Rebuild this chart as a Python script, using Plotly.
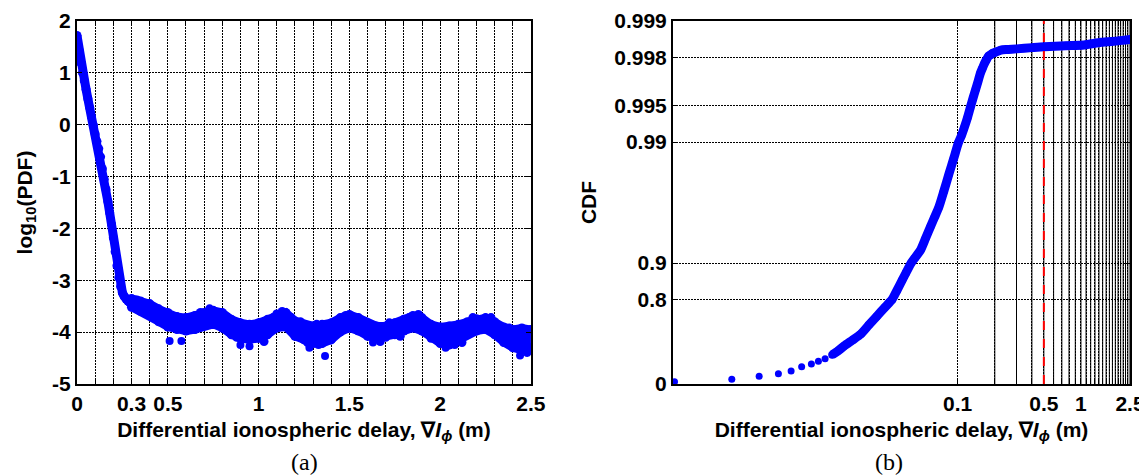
import numpy as np
import plotly.graph_objects as go

# ---------------- Panel (a): log10(PDF) ----------------
pdf_steep_x = [0.00, 0.01, 0.02, 0.03, 0.04, 0.05, 0.06, 0.07, 0.08, 0.09, 0.10,
               0.11, 0.12, 0.13, 0.14, 0.15, 0.16, 0.17, 0.18, 0.19, 0.20,
               0.21, 0.22, 0.23, 0.24, 0.25, 0.26, 0.27, 0.28, 0.29, 0.30]
pdf_steep_y = [1.72, 1.45, 1.20, 1.00, 0.85, 0.68, 0.50, 0.33, 0.15, -0.01, -0.18,
               -0.32, -0.46, -0.62, -0.85, -1.05, -1.25, -1.48, -1.70, -1.92, -2.18,
               -2.45, -2.72, -2.95, -3.12, -3.24, -3.31, -3.36, -3.40, -3.43, -3.46]

band_x = [0.30, 0.35, 0.40, 0.45, 0.50, 0.55, 0.60, 0.65, 0.70, 0.75, 0.80, 0.85,
          0.90, 0.95, 1.00, 1.05, 1.10, 1.15, 1.20, 1.25, 1.30, 1.35, 1.40, 1.45,
          1.50, 1.55, 1.60, 1.65, 1.70, 1.75, 1.80, 1.85, 1.90, 1.95, 2.00, 2.05,
          2.10, 2.15, 2.20, 2.25, 2.30, 2.35, 2.40, 2.45, 2.50]
band_upper = [-3.35, -3.40, -3.45, -3.55, -3.62, -3.70, -3.72, -3.68, -3.62, -3.58, -3.62, -3.75,
              -3.82, -3.85, -3.82, -3.75, -3.65, -3.62, -3.78, -3.85, -3.88, -3.85, -3.82, -3.72,
              -3.66, -3.72, -3.82, -3.88, -3.88, -3.82, -3.75, -3.68, -3.72, -3.85, -3.90, -3.88,
              -3.85, -3.80, -3.74, -3.72, -3.80, -3.90, -3.95, -3.92, -3.95]
band_lower = [-3.52, -3.60, -3.68, -3.80, -3.90, -3.95, -3.98, -3.95, -3.88, -3.85, -3.92, -4.05,
              -4.12, -4.15, -4.12, -4.05, -3.92, -3.90, -4.08, -4.15, -4.22, -4.22, -4.15, -4.00,
              -3.92, -3.98, -4.08, -4.12, -4.10, -4.05, -3.98, -3.92, -3.98, -4.12, -4.22, -4.25,
              -4.15, -4.05, -3.98, -3.95, -4.05, -4.20, -4.30, -4.35, -4.30]
scatter_x = [0.33, 0.38, 0.43, 0.47, 0.53, 0.62, 0.68, 0.73, 0.78, 0.83, 0.88, 0.97,
             1.03, 1.08, 1.13, 1.18, 1.23, 1.27, 1.32, 1.38, 1.43, 1.48, 1.53, 1.58,
             1.67, 1.72, 1.78, 1.83, 1.88, 1.93, 1.98, 2.12, 2.18, 2.23, 2.28, 2.33, 2.38, 2.47]
scatter_y = [-3.38, -3.47, -3.70, -3.60, -3.72, -3.85, -3.62, -3.55, -3.70, -3.82, -4.10, -3.95,
             -4.18, -3.72, -3.60, -3.72, -3.80, -4.20, -3.85, -4.05, -3.80, -3.68, -3.80, -3.95,
             -4.18, -3.82, -4.08, -3.72, -3.66, -3.95, -4.05, -4.20, -3.72, -3.90, -3.72, -4.10, -3.92, -4.10]
outlier_x = [0.51, 0.575, 0.90, 0.95, 1.28, 1.33, 1.366, 1.63, 2.03, 2.08, 2.44, 2.48]
outlier_y = [-4.17, -4.17, -4.25, -4.27, -4.30, -4.25, -4.46, -4.20, -4.30, -4.25, -4.45, -4.40]

xa_tickvals = [0.0, 0.1, 0.2, 0.3, 0.4, 0.5, 0.6, 0.7, 0.8, 0.9, 1.0, 1.1, 1.2,
               1.3, 1.4, 1.5, 1.6, 1.7, 1.8, 1.9, 2.0, 2.1, 2.2, 2.3, 2.4, 2.5]
xa_labeled = {0.0: "0", 0.3: "0.3", 0.5: "0.5", 1.0: "1", 1.5: "1.5", 2.0: "2", 2.5: "2.5"}
ya_tickvals = [-5, -4, -3, -2, -1, 0, 1, 2]

# ---------------- Panel (b): CDF ----------------
cdf_sparse_x = [5.04e-4, 1.47e-3, 2.45e-3, 3.51e-3, 4.45e-3, 5.42e-3, 6.50e-3, 7.41e-3, 8.40e-3, 9.58e-3]
cdf_sparse_p = [0.043, 0.085, 0.136, 0.178, 0.219, 0.281, 0.316, 0.351, 0.382, 0.427]
cdf_dense_x = [0.0096, 0.0105, 0.012, 0.014, 0.0163, 0.019, 0.022, 0.0255, 0.0294, 0.032,
               0.0355, 0.038, 0.0415, 0.045, 0.050, 0.055, 0.060, 0.065, 0.0705, 0.077,
               0.085, 0.093, 0.1013, 0.107, 0.1125, 0.120, 0.1276, 0.133, 0.140, 0.146,
               0.153, 0.159, 0.165, 0.171, 0.178, 0.185, 0.1913, 0.200, 0.2239, 0.25,
               0.30, 0.40, 0.5035, 0.75, 1.058, 1.455, 2.0, 2.55]
cdf_dense_p = [0.427, 0.46, 0.515, 0.566, 0.612, 0.674, 0.723, 0.766, 0.800, 0.830,
               0.862, 0.879, 0.898, 0.9094, 0.9219, 0.9378, 0.9495, 0.9583, 0.9657, 0.9743,
               0.9817, 0.9864, 0.98986, 0.99109, 0.99229, 0.9937, 0.99496, 0.99564, 0.99634, 0.99682,
               0.99731, 0.99755, 0.99776, 0.99791, 0.99805, 0.99810, 0.99815, 0.99818, 0.99826, 0.99828,
               0.99830, 0.99834, 0.99837, 0.99840, 0.99842, 0.99850, 0.99854, 0.99858]
cdf_ticks = [0, 0.8, 0.9, 0.99, 0.995, 0.998, 0.999]
cdf_ticklabels = ["0", "0.8", "0.9", "0.99", "0.995", "0.998", "0.999"]
xb_tickvals = [0.1, 0.2, 0.3, 0.4, 0.5, 0.6, 0.7, 0.8, 0.9, 1.0, 1.1, 1.2, 1.3,
               1.4, 1.5, 1.6, 1.7, 1.8, 1.9, 2.0, 2.1, 2.2, 2.3, 2.4, 2.5]
xb_labeled = {0.1: "0.1", 0.5: "0.5", 1.0: "1", 2.5: "2.5"}
xb_solid_lines = [v for v in xb_tickvals if v > 0.15]
threshold_x = 0.5


def to_u(p):
    p = np.asarray(p, dtype=float)
    return -np.log10(1.0 - p)


BLUE = "#0000FF"
FONT = "Liberation Sans, Arial, sans-serif"
FS = 21
fig = go.Figure()

# panel (a) traces
fig.add_trace(go.Scatter(x=band_x, y=band_lower, mode="lines+markers",
                         line=dict(color=BLUE, width=8), marker=dict(color=BLUE, size=9),
                         xaxis="x", yaxis="y", showlegend=False))
fig.add_trace(go.Scatter(x=band_x, y=band_upper, mode="lines+markers", fill="tonexty",
                         fillcolor=BLUE,
                         line=dict(color=BLUE, width=8), marker=dict(color=BLUE, size=9),
                         xaxis="x", yaxis="y", showlegend=False))
fig.add_trace(go.Scatter(x=pdf_steep_x, y=pdf_steep_y, mode="lines+markers",
                         line=dict(color=BLUE, width=9), marker=dict(color=BLUE, size=9),
                         xaxis="x", yaxis="y", showlegend=False))
fig.add_trace(go.Scatter(x=scatter_x, y=scatter_y, mode="markers",
                         marker=dict(color=BLUE, size=9),
                         xaxis="x", yaxis="y", showlegend=False))
fig.add_trace(go.Scatter(x=outlier_x, y=outlier_y, mode="markers",
                         marker=dict(color=BLUE, size=8),
                         xaxis="x", yaxis="y", showlegend=False))

# panel (b) traces
fig.add_trace(go.Scatter(x=cdf_sparse_x, y=to_u(cdf_sparse_p), mode="markers",
                         marker=dict(color=BLUE, size=7),
                         xaxis="x2", yaxis="y2", showlegend=False))
fig.add_trace(go.Scatter(x=cdf_dense_x, y=to_u(cdf_dense_p), mode="lines+markers",
                         line=dict(color=BLUE, width=9, shape="spline", smoothing=0.6),
                         marker=dict(color=BLUE, size=8),
                         xaxis="x2", yaxis="y2", showlegend=False))

shapes = []
for v in xb_solid_lines:
    shapes.append(dict(type="line", xref="x2", yref="y2 domain", x0=v, x1=v, y0=0, y1=1,
                       line=dict(color="black", width=1), layer="below"))
shapes.append(dict(type="line", xref="x2", yref="y2 domain", x0=threshold_x, x1=threshold_x,
                   y0=0, y1=1, line=dict(color="#FF0000", width=2, dash="dash"), layer="above"))

grid_common = dict(showgrid=True, gridcolor="black", gridwidth=1, griddash="2px,1px",
                   showline=True, linecolor="black", linewidth=2, mirror="allticks",
                   ticks="inside", ticklen=5, tickcolor="black", zeroline=False,
                   automargin=False,
                   tickfont=dict(family=FONT, size=FS, color="black", weight="bold"))

xtitle = "Differential ionospheric delay, ∇<i>I</i><sub><i>ϕ</i></sub> (m)"
tfont = dict(family=FONT, size=FS, color="black", weight="bold")

# The page body adds an 8px offset, so the figure is sized to end at the window edges.
fig.update_layout(
    width=1139, height=468,
    margin=dict(l=69, r=17, t=13, b=92, autoexpand=False),
    paper_bgcolor="white", plot_bgcolor="white",
    font=dict(family=FONT, size=FS, color="black", weight="bold"),
    xaxis=dict(domain=[0, 0.4311], range=[0, 2.5], tickmode="array",
               tickvals=xa_tickvals,
               ticktext=[xa_labeled.get(v, "") for v in xa_tickvals],
               title=dict(text=xtitle, standoff=8, font=tfont),
               anchor="y", **grid_common),
    yaxis=dict(domain=[0, 1], range=[-5, 2], tickmode="array", tickvals=ya_tickvals,
               ticktext=[str(v) for v in ya_tickvals],
               title=dict(text="log<sub>10</sub>(PDF)", standoff=14, font=tfont),
               anchor="x", **grid_common),
    xaxis2=dict(domain=[0.566, 1], type="log",
                range=[np.log10(4.9e-4), np.log10(2.5)], tickmode="array",
                tickvals=xb_tickvals,
                ticktext=[xb_labeled.get(v, "") for v in xb_tickvals],
                title=dict(text=xtitle, standoff=8, font=tfont),
                anchor="y2", **grid_common),
    yaxis2=dict(domain=[0, 1], range=[0, 3], tickmode="array",
                tickvals=list(to_u(cdf_ticks)), ticktext=cdf_ticklabels,
                title=dict(text="CDF", standoff=12, font=tfont),
                anchor="x2", **grid_common),
    shapes=shapes,
    annotations=[
        dict(text="(a)", xref="paper", yref="paper", x=0.2156, y=-0.215,
             showarrow=False, xanchor="center", yanchor="middle",
             font=dict(family="Liberation Serif, Times New Roman, serif", size=24,
                       color="black", weight="normal")),
        dict(text="(b)", xref="paper", yref="paper", x=0.771, y=-0.215,
             showarrow=False, xanchor="center", yanchor="middle",
             font=dict(family="Liberation Serif, Times New Roman, serif", size=24,
                       color="black", weight="normal")),
    ],
)

fig.write_html("out.html")
